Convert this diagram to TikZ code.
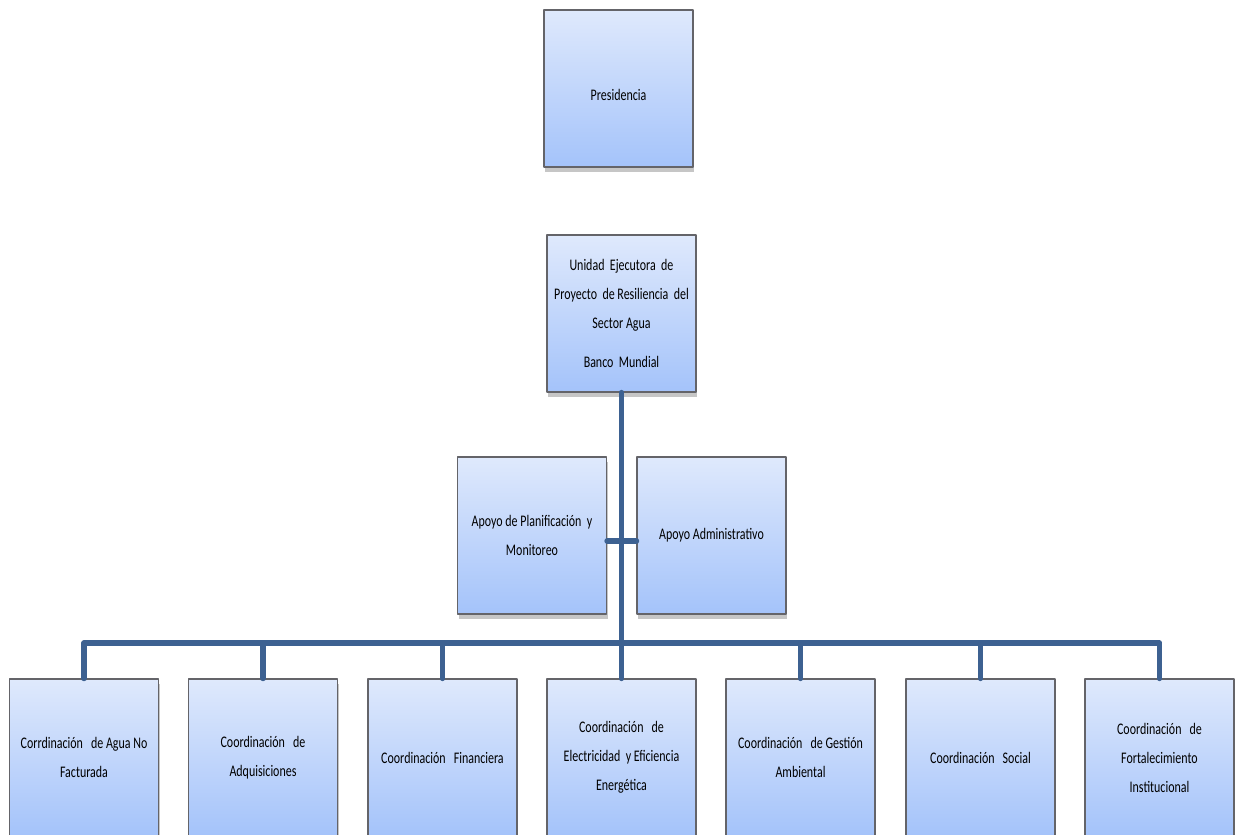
\documentclass[tikz,border=0pt]{standalone}
\usepackage{fontspec}
\setmainfont{Carlito}[FakeStretch=0.74]
\usetikzlibrary{shadows}
\definecolor{boxtop}{RGB}{223,233,252}
\definecolor{boxbot}{RGB}{164,195,250}
\definecolor{linkblue}{RGB}{61,97,145}
\definecolor{boxline}{RGB}{100,100,105}

\begin{document}
\begin{tikzpicture}[line join=round, line cap=round,
	unit/.style={draw=boxline, line width=0.7pt, minimum width=2.98cm, minimum height=3.14cm,
		top color=boxtop, bottom color=boxbot, align=center, inner sep=2pt,
		drop shadow={opacity=0.45, shadow xshift=0.6pt, shadow yshift=-3pt},
		font=\fontsize{9.2}{16.5}\selectfont},
	link/.style={draw=linkblue, line width=3.2pt}]
	\def\ybus{-12.86} \def\ylow{-15.15}
	\useasboundingbox (0,0) rectangle (24.74,-16.68);
	% upper levels
	\node[unit] (pres) at (12.37,-1.77) {\rule{0pt}{5mm}Presidencia};
	\node[unit] (ueps) at (12.43,-6.27) {Unidad~~Ejecutora~~de\\Proyecto~~de Resiliencia~~del\\Sector Agua\\[6pt]Banco~~Mundial};
	\node[unit] (apl) at (10.64,-10.71) {Apoyo de Planificación~~y\\Monitoreo};
	\node[unit] (aadm) at (14.23,-10.71) {Apoyo Administrativo};
	% coordinaciones
	\foreach \i/\x/\t in {1/1.68/{Corrdinación~~~de Agua No\\Facturada},
		2/5.26/{Coordinación~~~de\\Adquisiciones},
		3/8.85/{Coordinación~~~Financiera},
		4/12.43/{Coordinación~~~de\\Electricidad~~y Eficiencia\\Energética},
		5/16.01/{Coordinación~~~de Gestión\\Ambiental},
		6/19.61/{Coordinación~~~Social},
		7/23.19/{Coordinación~~~de\\Fortalecimiento\\Institucional}}
		\node[unit] (c\i) at (\x,\ylow) {\t};
	% links
	\coordinate (bus) at (12.43,\ybus);
	\draw[link] (ueps.south) -- (bus);
	\draw[link] ([yshift=-1.1mm]apl.east) -- ([yshift=-1.1mm]aadm.west);
	\draw[link] (c1.north) -- (c1.north |- bus) -- (c7.north |- bus) -- (c7.north);
	\foreach \i in {2,...,6}
		\draw[link] (c\i.north |- bus) -- (c\i.north);
\end{tikzpicture}
\end{document}
